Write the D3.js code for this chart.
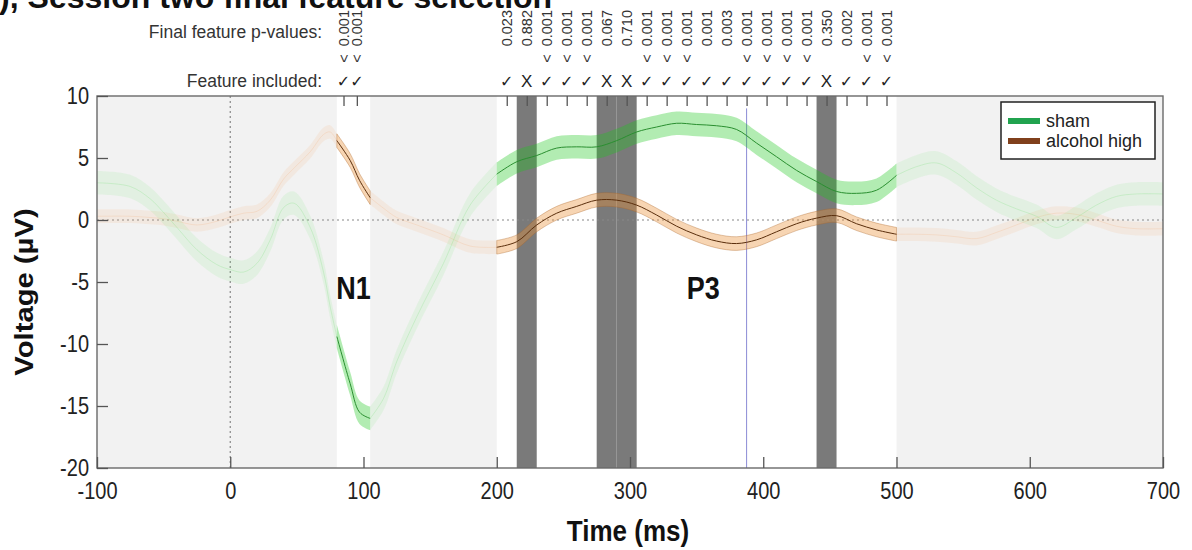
<!DOCTYPE html>
<html>
<head>
<meta charset="utf-8">
<script src="https://cdn.jsdelivr.net/npm/d3@7"></script>
<style>
  body { margin: 0; background: #fff; }
  svg { display: block; font-family: "Liberation Sans", Arial, sans-serif; }
</style>
</head>
<body>
<div id="chart"></div>
<script>
// ERP time axis (ms) and group means (µV)
var times    = [-100, -75, -60, -50, -40, -25, -10, 0, 10, 20, 30, 40, 48, 60, 70, 75, 80, 90, 97, 105,
                115, 125, 140, 160, 180, 200, 215, 230, 245, 260, 275, 290, 305, 320, 335, 350, 365, 380,
                395, 410, 425, 440, 455, 470, 485, 500, 515, 530, 545, 560, 575, 590, 605, 620, 635, 650,
                665, 680, 700];
var shamMean = [3.0, 2.7, 1.7, 0.6, -0.6, -2.4, -3.6, -4.0, -4.2, -3.5, -1.6, 1.0, 1.35, -0.6, -4.2, -7.0, -9.4, -13.2, -15.5, -16.0,
                -14.4, -11.4, -7.8, -3.5, 1.2, 3.7, 4.7, 5.2, 5.8, 5.9, 5.9, 6.4, 7.1, 7.5, 7.8, 7.7, 7.6, 7.3,
                6.2, 5.1, 4.0, 3.1, 2.3, 2.15, 2.4, 3.6, 4.3, 4.6, 3.8, 2.6, 1.6, 0.9, 0.3, -0.6, 0.2, 1.2,
                1.9, 2.1, 2.1];
var alcMean  = [0.3, 0.3, 0.2, 0.1, -0.1, -0.4, -0.1, 0.25, 0.55, 0.7, 1.6, 3.3, 4.2, 5.5, 6.9, 7.1, 6.4, 4.8, 3.2, 1.8,
                0.95, 0.2, -0.4, -1.2, -2.1, -2.2, -1.75, -0.4, 0.55, 1.1, 1.6, 1.6, 1.2, 0.4, -0.5, -1.2, -1.7, -1.9,
                -1.6, -0.95, -0.3, 0.15, 0.35, -0.3, -0.8, -1.15, -1.15, -1.2, -1.35, -1.5, -1.0, -0.4, 0.2, 0.55, 0.45, 0.0,
                -0.5, -0.7, -0.7];
var shamSem = 0.95;
var alcSem  = 0.55;

// analysis windows (N1, P3) and the features inside them
var windows        = [[80, 105], [200, 500]];
var featureCenters = [85, 95, 207.5, 222.5, 237.5, 252.5, 267.5, 282.5, 297.5, 312.5, 327.5, 342.5,
                      357.5, 372.5, 387.5, 402.5, 417.5, 432.5, 447.5, 462.5, 477.5, 492.5];
var featureWidths  = [10, 10, 15, 15, 15, 15, 15, 15, 15, 15, 15, 15, 15, 15, 15, 15, 15, 15, 15, 15, 15, 15];
var featurePvals   = ["< 0.001", "< 0.001", "0.023", "0.882", "< 0.001", "< 0.001", "< 0.001", "0.067", "0.710",
                      "< 0.001", "< 0.001", "< 0.001", "0.001", "0.003", "< 0.001", "< 0.001", "< 0.001", "< 0.001",
                      "0.350", "0.002", "< 0.001", "< 0.001"];
var featureIncluded = [true, true, true, false, true, true, true, false, false, true, true, true, true, true,
                       true, true, true, true, false, true, true, true];
var markerTimes = [387.5];

var xTicks = [-100, 0, 100, 200, 300, 400, 500, 600, 700];
var yTicks = [-20, -15, -10, -5, 0, 5, 10];
var seriesNames = ["sham", "alcohol high"];
var seriesColors = ["#21a34f", "#80401c"];
var peakLabels = [{name: "N1", t: 92.5}, {name: "P3", t: 355}];

var W = 1192, H = 550;
var margin = {top: 96, right: 29, bottom: 82, left: 97};
var stretch = 1.17;   // the source figure is a bit taller than wide

var svg = d3.select("#chart").append("svg").attr("width", W).attr("height", H);

var x = d3.scaleLinear().domain([-100, 700]).range([margin.left, W - margin.right]);
var y = d3.scaleLinear().domain([-20, 10]).range([H - margin.bottom, margin.top]);

var rows = times.map(function(t, i) { return {t: t, sham: shamMean[i], alc: alcMean[i]}; });

// backgrounds: gray outside windows, white inside
svg.append("rect")
  .attr("x", x(-100)).attr("y", y(10))
  .attr("width", x(700) - x(-100)).attr("height", y(-20) - y(10))
  .attr("fill", "#f2f2f2");
svg.selectAll(".win").data(windows).enter().append("rect")
  .attr("class", "win")
  .attr("x", function(d) { return x(d[0]); })
  .attr("y", y(10))
  .attr("width", function(d) { return x(d[1]) - x(d[0]); })
  .attr("height", y(-20) - y(10))
  .attr("fill", "#fff");

// rejected features
var rejected = featureCenters.map(function(c, i) { return {c: c, w: featureWidths[i], inc: featureIncluded[i]}; })
  .filter(function(d) { return !d.inc; });
svg.selectAll(".rej").data(rejected).enter().append("rect")
  .attr("class", "rej")
  .attr("x", function(d) { return x(d.c - d.w / 2); })
  .attr("y", y(10))
  .attr("width", function(d) { return x(d.c + d.w / 2) - x(d.c - d.w / 2); })
  .attr("height", y(-20) - y(10))
  .attr("fill", "#7a7a7a");

// zero lines
svg.append("line")
  .attr("x1", x(-100)).attr("x2", x(700)).attr("y1", y(0)).attr("y2", y(0))
  .attr("stroke", "#888").attr("stroke-width", 1.2).attr("stroke-dasharray", "2,3");
svg.append("line")
  .attr("x1", x(0)).attr("x2", x(0)).attr("y1", y(10)).attr("y2", y(-20))
  .attr("stroke", "#888").attr("stroke-width", 1.2).attr("stroke-dasharray", "2,3");

svg.selectAll(".marker").data(markerTimes).enter().append("line")
  .attr("x1", function(d) { return x(d); }).attr("x2", function(d) { return x(d); })
  .attr("y1", y(9)).attr("y2", y(-20))
  .attr("stroke", "#8c8cd6").attr("stroke-width", 1);

// curves
function band(key, sem) {
  return d3.area().curve(d3.curveCatmullRom)
    .x(function(d) { return x(d.t); })
    .y0(function(d) { return y(d[key] - sem); })
    .y1(function(d) { return y(d[key] + sem); });
}
function mid(key) {
  return d3.line().curve(d3.curveCatmullRom)
    .x(function(d) { return x(d.t); })
    .y(function(d) { return y(d[key]); });
}
function slice(a, b) { return rows.filter(function(d) { return d.t >= a && d.t <= b; }); }

var outside = [[-100, 80], [105, 200], [500, 700]];
var faded = svg.append("g");
outside.forEach(function(r) {
  var seg = slice(r[0], r[1]);
  faded.append("path").datum(seg).attr("d", band("alc", alcSem))
    .attr("fill", "rgb(245,170,110)").attr("fill-opacity", 0.13);
  faded.append("path").datum(seg).attr("d", mid("alc"))
    .attr("fill", "none").attr("stroke", "rgb(245,180,130)").attr("stroke-opacity", 0.25).attr("stroke-width", 1);
  faded.append("path").datum(seg).attr("d", band("sham", shamSem))
    .attr("fill", "rgb(120,235,120)").attr("fill-opacity", 0.13);
  faded.append("path").datum(seg).attr("d", mid("sham"))
    .attr("fill", "none").attr("stroke", "rgb(120,225,120)").attr("stroke-opacity", 0.25).attr("stroke-width", 1);
});

var bold = svg.append("g");
windows.forEach(function(r) {
  var seg = slice(r[0], r[1]);
  bold.append("path").datum(seg).attr("d", band("sham", shamSem))
    .attr("fill", "rgb(30,200,30)").attr("fill-opacity", 0.34);
  bold.append("path").datum(seg).attr("d", mid("sham"))
    .attr("fill", "none").attr("stroke", "#2a8f30").attr("stroke-width", 1);
  bold.append("path").datum(seg).attr("d", band("alc", alcSem))
    .attr("fill", "rgb(235,145,55)").attr("fill-opacity", 0.38)
    .attr("stroke", "rgb(170,100,40)").attr("stroke-opacity", 0.45).attr("stroke-width", 0.8);
  bold.append("path").datum(seg).attr("d", mid("alc"))
    .attr("fill", "none").attr("stroke", "#5a2e0c").attr("stroke-width", 1);
});

// frame
svg.append("rect")
  .attr("x", x(-100)).attr("y", y(10))
  .attr("width", x(700) - x(-100)).attr("height", y(-20) - y(10))
  .attr("fill", "none").attr("stroke", "#6a6a6a").attr("stroke-width", 1.4);

// axes
var xAxis = svg.append("g")
  .attr("transform", "translate(0," + y(-20) + ")")
  .call(d3.axisBottom(x).tickValues(xTicks).tickSizeInner(-11).tickSizeOuter(0).tickPadding(14)
        .tickFormat(function(d) { return d; }));
var yAxis = svg.append("g")
  .attr("transform", "translate(" + x(-100) + ",0)")
  .call(d3.axisLeft(y).tickValues(yTicks).tickSizeInner(-11).tickSizeOuter(0).tickPadding(8)
        .tickFormat(function(d) { return d; }));
var topAxis = svg.append("g")
  .attr("transform", "translate(0," + y(10) + ")")
  .call(d3.axisTop(x).tickValues(featureCenters).tickSizeInner(-10).tickSizeOuter(0).tickFormat(""));

[xAxis, yAxis, topAxis].forEach(function(a) {
  a.select(".domain").remove();
  a.selectAll("line").attr("stroke", "#555").attr("stroke-width", 1.3);
});
xAxis.selectAll("text")
  .attr("font-size", 20).attr("fill", "#222")
  .attr("y", 14 / stretch)
  .attr("transform", "scale(1," + stretch + ")");
yAxis.selectAll("text")
  .attr("font-size", 20).attr("fill", "#222")
  .attr("transform", "scale(1," + stretch + ")");

// axis titles
svg.append("text")
  .attr("transform", "translate(" + ((x(-100) + x(700)) / 2 - 2) + ",541) scale(1," + stretch + ")")
  .attr("text-anchor", "middle").attr("font-size", 26).attr("font-weight", "bold").attr("fill", "#111")
  .text("Time (ms)");
svg.append("text")
  .attr("transform", "translate(33," + 292 + ") scale(1," + stretch + ") rotate(-90)")
  .attr("text-anchor", "middle").attr("font-size", 25).attr("font-weight", "bold").attr("fill", "#111")
  .text("Voltage (µV)");

// peak labels
svg.selectAll(".peak").data(peakLabels).enter().append("text")
  .attr("class", "peak")
  .attr("transform", function(d) { return "translate(" + x(d.t) + ",299) scale(1," + stretch + ")"; })
  .attr("text-anchor", "middle").attr("font-size", 27).attr("font-weight", "bold").attr("fill", "#111")
  .text(function(d) { return d.name; });

// feature annotations above the plot
svg.append("text").attr("x", 322).attr("y", 38).attr("text-anchor", "end")
  .attr("font-size", 17.5).attr("fill", "#333").text("Final feature p-values:");
svg.append("text").attr("x", 322).attr("y", 87).attr("text-anchor", "end")
  .attr("font-size", 17.5).attr("fill", "#333").text("Feature included:");

svg.selectAll(".pval").data(featureCenters).enter().append("text")
  .attr("class", "pval")
  .attr("transform", function(d) { return "translate(" + (x(d) + 5.5) + ",10) rotate(-90)"; })
  .attr("text-anchor", "end").attr("font-size", 14.5).attr("fill", "#333")
  .style("white-space", "pre")
  .text(function(d, i) { return featurePvals[i].replace("< ", "<  "); });

svg.selectAll(".inc").data(featureCenters).enter().append("text")
  .attr("class", "inc")
  .attr("x", function(d) { return x(d); }).attr("y", 87)
  .attr("text-anchor", "middle")
  .attr("font-family", function(d, i) { return featureIncluded[i] ? "DejaVu Sans" : "Liberation Sans"; })
  .attr("font-size", function(d, i) { return featureIncluded[i] ? 16 : 17; })
  .attr("fill", "#222")
  .text(function(d, i) { return featureIncluded[i] ? "\u2713" : "X"; });

// legend
var lg = svg.append("g").attr("transform", "translate(1001,102)");
lg.append("rect").attr("width", 154).attr("height", 57)
  .attr("fill", "#fff").attr("stroke", "#222").attr("stroke-width", 1.5);
seriesNames.forEach(function(n, i) {
  lg.append("line").attr("x1", 7).attr("x2", 39).attr("y1", 19 + i * 20).attr("y2", 19 + i * 20)
    .attr("stroke", seriesColors[i]).attr("stroke-width", 6);
  lg.append("text").attr("x", 45).attr("y", 25 + i * 20)
    .attr("font-size", 18).attr("fill", "#222").text(n);
});

// panel heading, cut off by the top edge of the figure as in the source
svg.append("text").attr("x", -24).attr("y", 8)
  .attr("font-size", 32).attr("font-weight", "bold").attr("fill", "#111")
  .text("B), Session two final feature selection");
</script>
</body>
</html>
